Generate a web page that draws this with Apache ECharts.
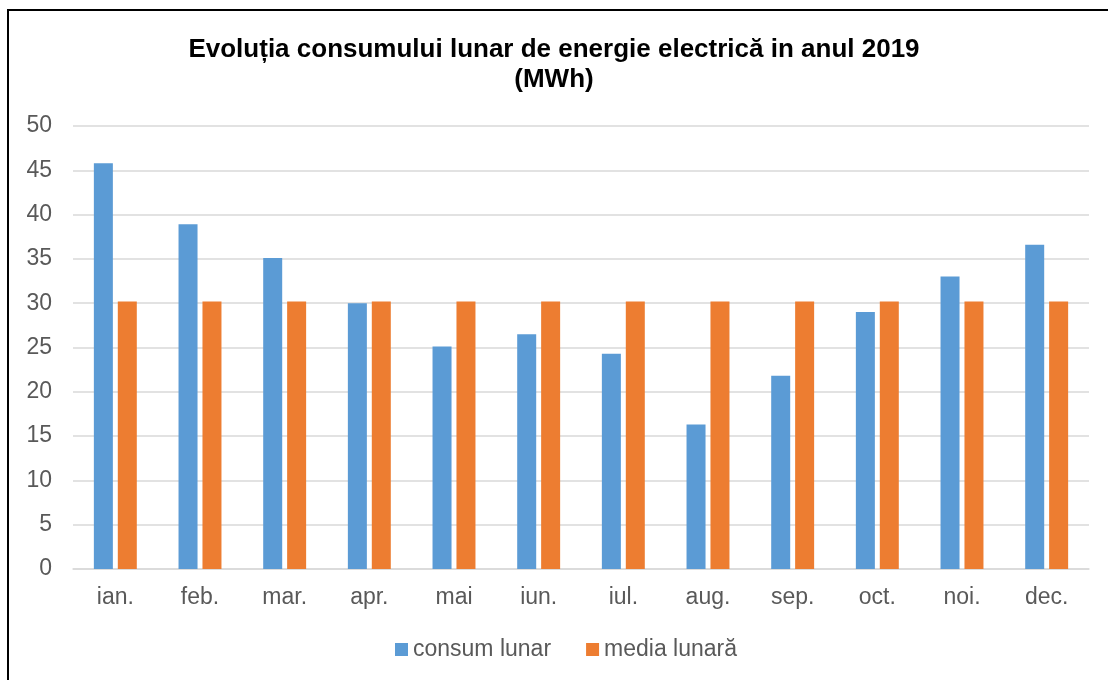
<!DOCTYPE html>
<html>
<head>
<meta charset="utf-8">
<script src="https://cdn.jsdelivr.net/npm/echarts@6/dist/echarts.min.js"></script>
<style>
    html, body { margin: 0; padding: 0; background: #fff; }
    #chart { width: 1108px; height: 680px; }
</style>
</head>
<body>
<div id="chart"></div>
<script>
    // luni
    var months = ['ian.', 'feb.', 'mar.', 'apr.', 'mai', 'iun.', 'iul.', 'aug.', 'sep.', 'oct.', 'noi.', 'dec.']
    // consum lunar (MWh)
    var consumLunar = [45.8, 38.9, 35.1, 30.0, 25.1, 26.5, 24.3, 16.3, 21.8, 29.0, 33.0, 36.6]
    // media lunara (MWh)
    var mediaLunara = [30.2, 30.2, 30.2, 30.2, 30.2, 30.2, 30.2, 30.2, 30.2, 30.2, 30.2, 30.2]

    var font = 'Arial, "Liberation Sans", sans-serif'
    var chart = echarts.init(document.getElementById('chart'))
    chart.setOption({
        backgroundColor: '#fff',
        animation: false,
        textStyle: { fontFamily: font },
        graphic: [{
            type: 'rect',
            shape: { x: 8, y: 10, width: 1200, height: 800 },
            style: { fill: 'none', stroke: '#000', lineWidth: 2 },
            silent: true
        }],
        title: {
            text: 'Evoluția consumului lunar de energie electrică in anul 2019\n(MWh)',
            left: 'center',
            top: 30,
            textStyle: {
                fontFamily: font,
                fontWeight: 'bold',
                fontSize: 26,
                lineHeight: 30,
                color: '#000'
            }
        },
        legend: {
            top: 633,
            left: 390,
            icon: 'rect',
            itemWidth: 13,
            itemHeight: 13,
            itemGap: 35,
            textStyle: { fontSize: 23, color: '#595959', fontFamily: font },
            data: ['consum lunar', 'media lunară']
        },
        grid: {
            left: 73,
            right: 19,
            top: 126,
            bottom: 111
        },
        xAxis: {
            type: 'category',
            data: months,
            axisTick: { show: false },
            axisLine: { lineStyle: { color: '#d9d9d9', width: 1.5 } },
            axisLabel: { fontSize: 23, color: '#595959', margin: 17 }
        },
        yAxis: {
            type: 'value',
            min: 0,
            max: 50,
            interval: 5,
            axisLine: { show: false },
            axisTick: { show: false },
            axisLabel: { fontSize: 23, color: '#595959', margin: 21 },
            splitLine: { lineStyle: { color: '#d9d9d9', width: 1.5 } }
        },
        series: [
            {
                name: 'consum lunar',
                type: 'bar',
                barWidth: 19,
                barGap: '26%',
                itemStyle: { color: '#5b9bd5' },
                data: consumLunar
            },
            {
                name: 'media lunară',
                type: 'bar',
                barWidth: 19,
                itemStyle: { color: '#ed7d31' },
                data: mediaLunara
            }
        ]
    })
</script>
</body>
</html>
